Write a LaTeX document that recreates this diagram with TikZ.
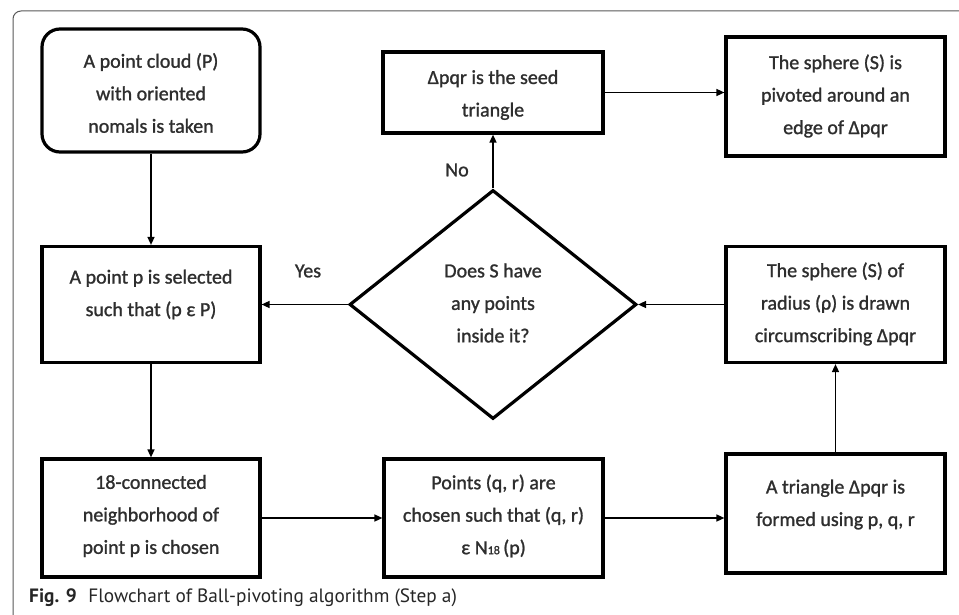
\documentclass[tikz,border=0pt]{standalone}
\usepackage{fontspec}
\setmainfont{Carlito}
\newfontfamily\boxfont{Carlito}[FakeBold=1.2]
\newfontfamily\capfont{PT Sans}
\usetikzlibrary{shapes.geometric,arrows.meta}
\begin{document}
\begin{tikzpicture}[x=1pt,y=-1pt,
  box/.style={draw=black,line width=3.2pt,minimum width=218pt,minimum height=116pt,inner sep=0pt},
  txt/.style={align=center,font=\boxfont\fontsize{20}{32.5}\selectfont,inner sep=0pt,text=black!82},
  arr/.style={line width=1.5pt,-{Triangle[length=8pt,width=7pt]}},
  lbl/.style={font=\boxfont\fontsize{20}{24}\selectfont,inner sep=0pt,text=black!82}
]
\useasboundingbox (0,0) rectangle (959,615);
\fill[white] (0,0) rectangle (959,615);
\draw[line width=1pt,black!65,rounded corners=8pt] (13,616) -- (13,11) -- (960,11);

% boxes
\node[box,rounded corners=18pt,minimum height=123pt] (B1) at (151,90.5) {};
\node[box] (B2) at (151,304.5) {};
\node[box,minimum height=118pt] (B3) at (151,518) {};
\node[box,minimum width=219pt,minimum height=118pt] (B4) at (493.5,518) {};
\node[box,minimum width=219pt,minimum height=119pt] (B5) at (835.5,513.5) {};
\node[box,minimum width=219pt] (B6) at (835.5,304.5) {};
\node[box,minimum width=219pt,minimum height=119pt] (B7) at (835.5,96.5) {};
\node[box,minimum width=220pt,minimum height=81pt] (B8) at (493,92.5) {};
\node[diamond,draw=black,line width=3.2pt,minimum width=287pt,minimum height=229pt,aspect=1.25,inner sep=0pt] (D) at (493,304.5) {};

% texts
\node[txt] (T1) at (151,93) {A point cloud (P)\\with oriented\\nomals is taken};
\node[txt] (T2) at (151,294.5) {A point p is selected\\such that (p ε P)};
\node[txt] (T3) at (151,516) {18-connected\\neighborhood of\\point p is chosen};
\node[txt] (T4) at (493.5,516) {Points (q, r) are\\chosen such that (q, r)\\ε N{\fontsize{12}{12}\selectfont 18}\,(p)};
\node[txt] (T5) at (835.5,504.5) {A triangle Δpqr is\\formed using p, q, r};
\node[txt] (T6) at (835.5,304) {The sphere (S) of\\radius (ρ) is drawn\\circumscribing Δpqr};
\node[txt] (T7) at (835.5,96) {The sphere (S) is\\pivoted around an\\edge of Δpqr};
\node[txt] (T8) at (493,95) {Δpqr is the seed\\triangle};
\node[txt] (TD) at (493,303) {Does S have\\any points\\inside it?};

% labels
\node[lbl] (yes) at (308,271) {Yes};
\node[lbl] (no) at (457,170) {No};

% connectors
\draw[arr] (B1.south) -- (B2.north);
\draw[arr] (B2.south) -- (B3.north);
\draw[arr] (B3.east) -- (B4.west);
\draw[arr] (B4.east) -- (B4.east -| B5.west);
\draw[arr] (B5.north) -- (B6.south);
\draw[arr] (B6.west) -- (D.east);
\draw[arr] (D.west) -- (B2.east);
\draw[arr] (D.north) -- (B8.south);
\draw[arr] (B8.east) -- (B8.east -| B7.west);

% caption
\node[anchor=base west,inner sep=0pt,font=\capfont\fontsize{19.3}{22}\selectfont,text=black!85] (cap) at (29,602) {\textbf{Fig. 9}\hspace{0.6em}Flowchart of Ball-pivoting algorithm (Step a)};
\end{tikzpicture}
\end{document}
